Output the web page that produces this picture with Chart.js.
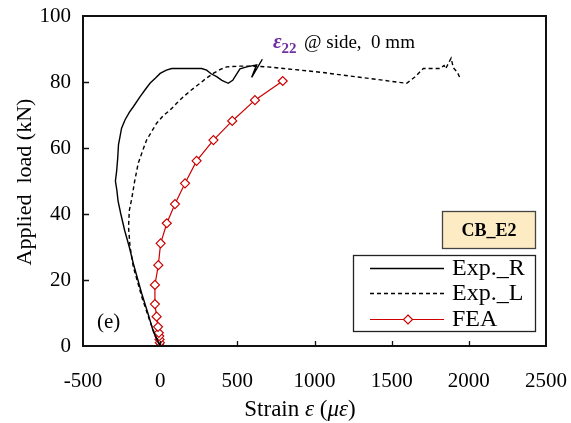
<!DOCTYPE html>
<html>
<head>
<meta charset="utf-8">
<script src="https://cdn.jsdelivr.net/npm/chart.js@4.4.1/dist/chart.umd.min.js"></script>
<style>
  html, body { margin: 0; padding: 0; background: #fff; }
  #wrap { width: 571px; height: 423px; }
</style>
</head>
<body>
<div id="wrap"><canvas id="chart" width="571" height="423"></canvas></div>
<script>
// Exp._R (solid) - strain (με) vs load (kN)
const expRStrain = [0, -20, -44, -80, -120, -150, -174, -200, -230, -255, -273, -280, -290, -282, -275, -270, -262, -250, -228, -200, -174, -131, -100, -66, -30, 0, 40, 75, 150, 269, 301, 330, 366, 400, 441, 470, 485, 517, 561, 625, 593, 662];
const expRLoad   = [0, 2, 4.3, 10, 16, 21, 25, 30, 35, 40, 44, 47, 50, 53, 57, 61, 63, 66, 68.5, 70.8, 72.5, 75.5, 77.5, 79.6, 81.2, 82.6, 83.6, 84.1, 84.1, 84.1, 83.6, 82.5, 81.6, 80.5, 79.6, 80.5, 81.6, 84, 84.6, 85.2, 81.4, 86.9];

// Exp._L (dashed)
const expLStrain = [0, -30, -70, -120, -174, -195, -205, -200, -184, -165, -142, -115, -88, -55, -23, 20, 64, 110, 150, 200, 258, 300, 344, 390, 431, 517, 600, 690, 800, 906, 1050, 1230, 1400, 1597, 1650, 1705, 1780, 1813, 1840, 1850, 1867, 1885, 1900, 1925, 1945];
const expLLoad   = [0, 3, 8, 15, 24, 30, 36, 41, 44.7, 50, 55.4, 59, 62.4, 65, 67.5, 69.8, 71.5, 73.7, 75.5, 77.5, 79.6, 81.2, 82.6, 83.8, 84.6, 84.8, 84.8, 84.6, 84.1, 83.6, 82.9, 81.8, 80.8, 79.6, 81.5, 84.1, 84.1, 84.1, 85, 84, 85.6, 87.2, 84.3, 83, 81];

// FEA (red, diamonds)
const feaStrain = [0, -2, -4, -6, -9, -14, -23, -34, -34, -12, 3, 43, 96, 161, 236, 345, 467, 614, 794];
const feaLoad   = [0, 1, 2, 3, 4, 5.8, 8.9, 12.7, 18.5, 24.5, 31.1, 37.2, 43, 49.3, 56.1, 62.4, 68.2, 74.5, 80.3];

const xTicks = [-500, 0, 500, 1000, 1500, 2000, 2500];
const yTicks = [0, 20, 40, 60, 80, 100];

const serif = '"Liberation Serif", "Times New Roman", serif';
const red = '#cc0000';

function toPoints(xs, ys) {
  return xs.map((x, i) => ({ x: x, y: ys[i] }));
}

// draws frame, inner ticks, legend, labels and axis titles
const decorPlugin = {
  id: 'decor',
  afterDraw(chart) {
    const ctx = chart.ctx;
    const a = chart.chartArea;
    const xs = chart.scales.x, ys = chart.scales.y;
    ctx.save();

    // frame
    ctx.strokeStyle = '#111';
    ctx.lineWidth = 2;
    ctx.strokeRect(a.left, a.top, a.right - a.left, a.bottom - a.top);

    // inward ticks
    ctx.lineWidth = 1.3;
    ctx.beginPath();
    xTicks.slice(1, -1).forEach(v => {
      const px = Math.round(xs.getPixelForValue(v)) + 0.5;
      ctx.moveTo(px, a.bottom); ctx.lineTo(px, a.bottom - 5);
    });
    yTicks.slice(1, -1).forEach(v => {
      const py = Math.round(ys.getPixelForValue(v)) + 0.5;
      ctx.moveTo(a.left, py); ctx.lineTo(a.left + 6, py);
    });
    ctx.stroke();

    // strain annotation
    ctx.fillStyle = '#7030a0';
    ctx.textBaseline = 'alphabetic';
    ctx.textAlign = 'left';
    ctx.font = 'italic bold 21px ' + serif;
    ctx.fillText('ε', 273, 48);
    let w = ctx.measureText('ε').width;
    ctx.font = 'bold 15px ' + serif;
    ctx.fillText('22', 273 + w, 53);
    ctx.fillStyle = '#000';
    ctx.font = '19px ' + serif;
    ctx.fillText('@ side,  0 mm', 304, 48);

    // (e)
    ctx.font = '21px ' + serif;
    ctx.fillText('(e)', 97, 328);

    // specimen box
    ctx.fillStyle = '#fdebc4';
    ctx.fillRect(442, 211, 94, 38);
    ctx.strokeStyle = '#444';
    ctx.lineWidth = 1.3;
    ctx.strokeRect(442.5, 211.5, 93, 37);
    ctx.fillStyle = '#000';
    ctx.font = 'bold 18px ' + serif;
    ctx.textAlign = 'center';
    ctx.fillText('CB_E2', 489, 236);

    // legend
    ctx.fillStyle = '#fff';
    ctx.fillRect(353, 255, 183, 77);
    ctx.strokeStyle = '#222';
    ctx.lineWidth = 1.3;
    ctx.strokeRect(353.5, 255.5, 182, 76);
    const rows = [268, 293, 319];
    chart.data.datasets.forEach((ds, i) => {
      const y = rows[i] + 0.5;
      ctx.strokeStyle = ds.borderColor;
      ctx.lineWidth = ds.borderWidth;
      ctx.setLineDash(ds.borderDash || []);
      ctx.beginPath();
      ctx.moveTo(370, y); ctx.lineTo(444, y);
      ctx.stroke();
      ctx.setLineDash([]);
      if (ds.pointRadius > 0) {
        ctx.fillStyle = '#fff';
        ctx.lineWidth = 1.2;
        ctx.beginPath();
        ctx.moveTo(408, y - 4.5); ctx.lineTo(412.5, y); ctx.lineTo(408, y + 4.5); ctx.lineTo(403.5, y);
        ctx.closePath();
        ctx.fill(); ctx.stroke();
      }
      ctx.fillStyle = '#000';
      ctx.font = '24px ' + serif;
      ctx.textAlign = 'left';
      ctx.textBaseline = 'middle';
      ctx.fillText(ds.label, 452, rows[i] + 1);
    });

    // x axis title with italic symbols
    ctx.textBaseline = 'alphabetic';
    const parts = [['Strain ', ''], ['ε', 'italic '], [' (', ''], ['με', 'italic '], [')', '']];
    let total = 0;
    parts.forEach(p => { ctx.font = p[1] + '23px ' + serif; total += ctx.measureText(p[0]).width; });
    let x = 300 - total / 2;
    parts.forEach(p => {
      ctx.font = p[1] + '23px ' + serif;
      ctx.fillText(p[0], x, 416);
      x += ctx.measureText(p[0]).width;
    });

    // y axis title
    ctx.translate(31, 182);
    ctx.rotate(-Math.PI / 2);
    ctx.textAlign = 'center';
    ctx.font = '22px ' + serif;
    ctx.fillText('Applied  load (kN)', 0, 0);

    ctx.restore();
  }
};

new Chart(document.getElementById('chart'), {
  type: 'scatter',
  data: {
    datasets: [
      {
        label: 'Exp._R',
        data: toPoints(expRStrain, expRLoad),
        showLine: true,
        borderColor: '#000',
        borderWidth: 1.4,
        pointRadius: 0,
        tension: 0
      },
      {
        label: 'Exp._L',
        data: toPoints(expLStrain, expLLoad),
        showLine: true,
        borderColor: '#000',
        borderWidth: 1.4,
        borderDash: [4, 3],
        pointRadius: 0,
        tension: 0
      },
      {
        label: 'FEA',
        data: toPoints(feaStrain, feaLoad),
        showLine: true,
        borderColor: red,
        borderWidth: 1.2,
        pointStyle: 'rectRot',
        pointRadius: 4.5,
        pointBorderWidth: 1.2,
        pointBackgroundColor: '#fff',
        pointBorderColor: red,
        tension: 0
      }
    ]
  },
  options: {
    responsive: false,
    animation: false,
    events: [],
    layout: { padding: { top: 16, right: 25, left: 0, bottom: 0 } },
    plugins: {
      legend: { display: false },
      tooltip: { enabled: false }
    },
    scales: {
      x: {
        type: 'linear',
        min: -500,
        max: 2500,
        afterFit: s => { s.height = 77; s.paddingLeft = 0; s.paddingRight = 0; },
        afterBuildTicks: s => { s.ticks = xTicks.map(v => ({ value: v })); },
        grid: { display: false, drawTicks: false },
        border: { display: false },
        ticks: {
          color: '#000',
          padding: 23,
          font: { family: serif, size: 21 },
          maxRotation: 0,
          callback: v => String(v)
        }
      },
      y: {
        type: 'linear',
        min: 0,
        max: 100,
        afterFit: s => { s.width = 83; s.paddingTop = 0; s.paddingBottom = 0; },
        afterBuildTicks: s => { s.ticks = yTicks.map(v => ({ value: v })); },
        grid: { display: false, drawTicks: false },
        border: { display: false },
        ticks: {
          color: '#000',
          padding: 12,
          font: { family: serif, size: 21 },
          callback: v => String(v)
        }
      }
    }
  },
  plugins: [decorPlugin]
});
</script>
</body>
</html>
